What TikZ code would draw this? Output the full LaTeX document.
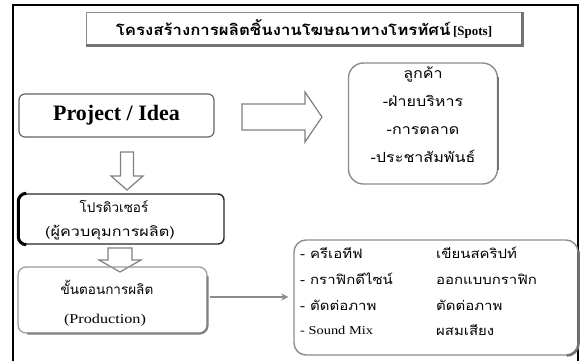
\documentclass[tikz,border=0pt]{standalone}
\usepackage{fontspec}
\setmainfont{Liberation Serif}
\newfontfamily\thai[Script=Thai]{Loma}
\newfontfamily\thaiw[Script=Thai,FakeStretch=1.15]{Loma}
\newfontfamily\thaiww[Script=Thai,FakeStretch=1.2]{Loma}
\newfontfamily\thait[Script=Thai,FakeStretch=1.12]{Loma}
\newfontfamily\serifw[FakeStretch=1.2]{Liberation Serif}
\usetikzlibrary{arrows.meta}
\begin{document}
\begin{tikzpicture}[x=1pt,y=-1pt,
  hollow/.style={draw=black!50, line width=1.2pt, fill=white, line join=miter},
  lbl/.style={inner sep=0pt, font=\thaiw\fontsize{13}{15}\selectfont}
]
\useasboundingbox (0,0) rectangle (582,360);
% outer frame
\draw[line width=1.6pt] (13,362) -- (13,5) -- (578,5) -- (578,362);
% title
\node[draw=black!45, line width=1pt, minimum width=436pt, minimum height=33pt, inner sep=0pt] (title) at (304,28.5)
  {{\thait\bfseries\fontsize{15}{17}\selectfont โครงสร้างการผลิตชิ้นงานโฆษณาทางโทรทัศน์} {\bfseries\fontsize{13}{15}\selectfont [Spots]}};
\draw[draw=black!55, line width=2.2pt] (title.south west) -- (title.south east) -- (title.north east);
% project / idea
\node[draw=black!60, line width=1.2pt, rounded corners=6pt, minimum width=195pt, minimum height=43pt,
  font=\bfseries\fontsize{22}{24}\selectfont] (proj) at (116.5,115.5) {Project / Idea};
% client box
\node[draw=black!45, line width=1.4pt, rounded corners=15pt, minimum width=149pt, minimum height=121pt] (client) at (423,123.5) {};
\draw[draw=black!55, line width=2.2pt] ([yshift=-15pt]client.north east) -- ([yshift=15pt]client.south east);
\node[inner sep=0pt, align=center, font=\thaiw\fontsize{14}{28}\selectfont] (clienttext) at (423,115)
  {ลูกค้า\\-ฝ่ายบริหาร\\-การตลาด\\-ประชาสัมพันธ์};
% hollow right arrow (proj -> client)
\draw[hollow] (242,104) -- (305,104) -- (305,92) -- (322,117) -- (305,142) -- (305,130) -- (242,130) -- cycle;
% hollow down arrow 1
\draw[hollow] (120.5,152) -- (133.5,152) -- (133.5,176) -- (143,176) -- (127,190) -- (111,176) -- (120.5,176) -- cycle;
% producer
\node[draw=black!85, line width=1.4pt, rounded corners=6pt, minimum width=205pt, minimum height=50pt] (producer) at (121.5,219) {};
\draw[line width=3pt, rounded corners=8pt] ([xshift=8pt]producer.north west) -- (producer.north west) -- (producer.south west) -- ([xshift=8pt]producer.south west);
\node[inner sep=0pt, font=\thai\fontsize{13.5}{15}\selectfont] (producer1) at (114,206) {โปรดิวเซอร์};
\node[inner sep=0pt, font=\thaiww\fontsize{13.5}{15}\selectfont] (producer2) at (110,233) {(ผู้ควบคุมการผลิต)};
% hollow down arrow 2
\draw[hollow] (108,248) -- (132,248) -- (132,260) -- (141,260) -- (120,272) -- (99,260) -- (108,260) -- cycle;
% production
\node[draw=black!40, line width=1.2pt, rounded corners=8pt, minimum width=189pt, minimum height=66pt] (prod) at (112.5,300) {};
\draw[draw=black!50, line width=2pt, rounded corners=8pt] ([yshift=-10pt]prod.north east) -- (prod.south east) -- ([xshift=10pt]prod.south west);
\node[inner sep=0pt, font=\thai\fontsize{13.5}{15}\selectfont] (prodth) at (107,287) {ขั้นตอนการผลิต};
\node[inner sep=0pt, font=\serifw\fontsize{13.5}{15}\selectfont] (proden) at (105,320) {(Production)};
% crew box
\node[draw=black!45, line width=1.4pt, rounded corners=12pt, minimum width=284pt, minimum height=115pt] (crew) at (436,297.5) {};
\draw[draw=black!55, line width=2.2pt, rounded corners=12pt] ([yshift=-12pt]crew.north east) -- (crew.south east) -- ([xshift=-12pt]crew.south east);
\coordinate (pa) at ([xshift=2pt]prod.east |- 0,297);
\draw[draw=black!45, line width=1.3pt, -{Stealth[length=7pt,width=7pt]}] (pa) -- ([xshift=-5pt]crew.west |- pa);
% crew text
\node[lbl, anchor=west] (r1a) at (300,253) {- ครีเอทีฟ};
\node[lbl, anchor=west] (r1b) at (436,253) {เขียนสคริปท์};
\node[lbl, anchor=west] (r2a) at (300,279) {- กราฟิกดีไซน์};
\node[lbl, anchor=west] (r2b) at (436,279) {ออกแบบกราฟิก};
\node[lbl, anchor=west] (r3a) at (300,305) {- ตัดต่อภาพ};
\node[lbl, anchor=west] (r3b) at (436,305) {ตัดต่อภาพ};
\node[inner sep=0pt, anchor=west, font=\serifw\fontsize{12}{14}\selectfont] (r4a) at (300,330) {- Sound Mix};
\node[lbl, anchor=west] (r4b) at (436,330) {ผสมเสียง};
\end{tikzpicture}
\end{document}
